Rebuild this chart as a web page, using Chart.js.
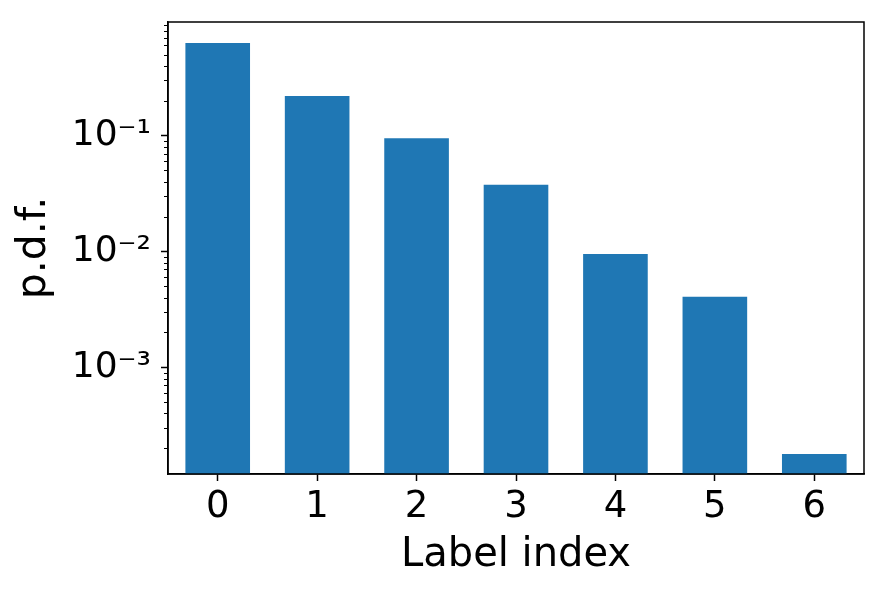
<!DOCTYPE html>
<html>
<head>
<meta charset="utf-8">
<script src="https://cdn.jsdelivr.net/npm/chart.js@4/dist/chart.umd.min.js"></script>
<style>
  html, body { margin: 0; padding: 0; background: #fff; }
  #wrap { width: 888px; height: 590px; }
</style>
</head>
<body>
<div id="wrap"><canvas id="chart" width="888" height="590"></canvas></div>
<script>
const labels = ['0', '1', '2', '3', '4', '5', '6'];
const pdf = [0.630, 0.220, 0.0950, 0.0376, 0.00950, 0.00407, 0.000179];
const majorTicks = [1e-3, 1e-2, 1e-1];
const tickText = { '0.001': '10\u207B\u00B3', '0.01': '10\u207B\u00B2', '0.1': '10\u207B\u00B9' };

const FONT = "'DejaVu Sans', sans-serif";

// frame on top/right + minor log ticks on the left spine
const framePlugin = {
  id: 'frame',
  afterDraw(chart) {
    const { ctx, chartArea: a, scales } = chart;
    ctx.save();
    ctx.strokeStyle = '#000';
    ctx.lineWidth = 1.5;
    ctx.strokeRect(a.left, a.top, a.right - a.left, a.bottom - a.top);

    const y = scales.y;
    ctx.lineWidth = 1.2;
    ctx.beginPath();
    for (let e = -4; e <= 0; e++) {
      for (let m = 2; m <= 9; m++) {
        const v = m * Math.pow(10, e);
        if (v < y.min || v > y.max) continue;
        const py = Math.round(y.getPixelForValue(v)) + 0.5;
        ctx.moveTo(a.left - 4, py);
        ctx.lineTo(a.left, py);
      }
    }
    ctx.stroke();
    ctx.restore();
  }
};

new Chart(document.getElementById('chart'), {
  type: 'bar',
  data: {
    labels,
    datasets: [{
      data: pdf,
      backgroundColor: '#1f77b4',
      borderWidth: 0,
      barPercentage: 0.65,
      categoryPercentage: 1.0
    }]
  },
  options: {
    responsive: false,
    animation: false,
    layout: { padding: { top: 22, right: 24, left: 0, bottom: 0 } },
    plugins: { legend: { display: false }, tooltip: { enabled: false } },
    scales: {
      x: {
        offset: true,
        border: { color: '#000', width: 1.5 },
        grid: { drawOnChartArea: false, drawTicks: true, tickLength: 7, tickColor: '#000', tickWidth: 1.5, offset: false },
        ticks: { color: '#000', font: { family: FONT, size: 37 }, padding: 4, maxRotation: 0 },
        title: { display: true, text: 'Label index', color: '#000', font: { family: FONT, size: 40 }, padding: { top: 0, bottom: 10 } },
        afterFit(scale) {
          scale.height = 116;
          scale.paddingLeft = 0;
          scale.paddingRight = 0;
        }
      },
      y: {
        type: 'logarithmic',
        min: 1.2e-4,
        max: 0.955,
        border: { color: '#000', width: 1.5 },
        grid: { drawOnChartArea: false, drawTicks: true, tickLength: 7, tickColor: '#000', tickWidth: 1.5 },
        afterBuildTicks(scale) {
          scale.ticks = majorTicks.map(v => ({ value: v }));
        },
        ticks: {
          color: '#000',
          font: { family: FONT, size: 36 },
          padding: 10,
          autoSkip: false,
          callback: v => tickText[String(v)] || ''
        },
        title: { display: true, text: 'p.d.f.', color: '#000', font: { family: FONT, size: 41 }, padding: { top: 10, bottom: 0 } },
        afterFit(scale) {
          scale.width = 168;
          scale.paddingTop = 0;
          scale.paddingBottom = 0;
        }
      }
    }
  },
  plugins: [framePlugin]
});
</script>
</body>
</html>
